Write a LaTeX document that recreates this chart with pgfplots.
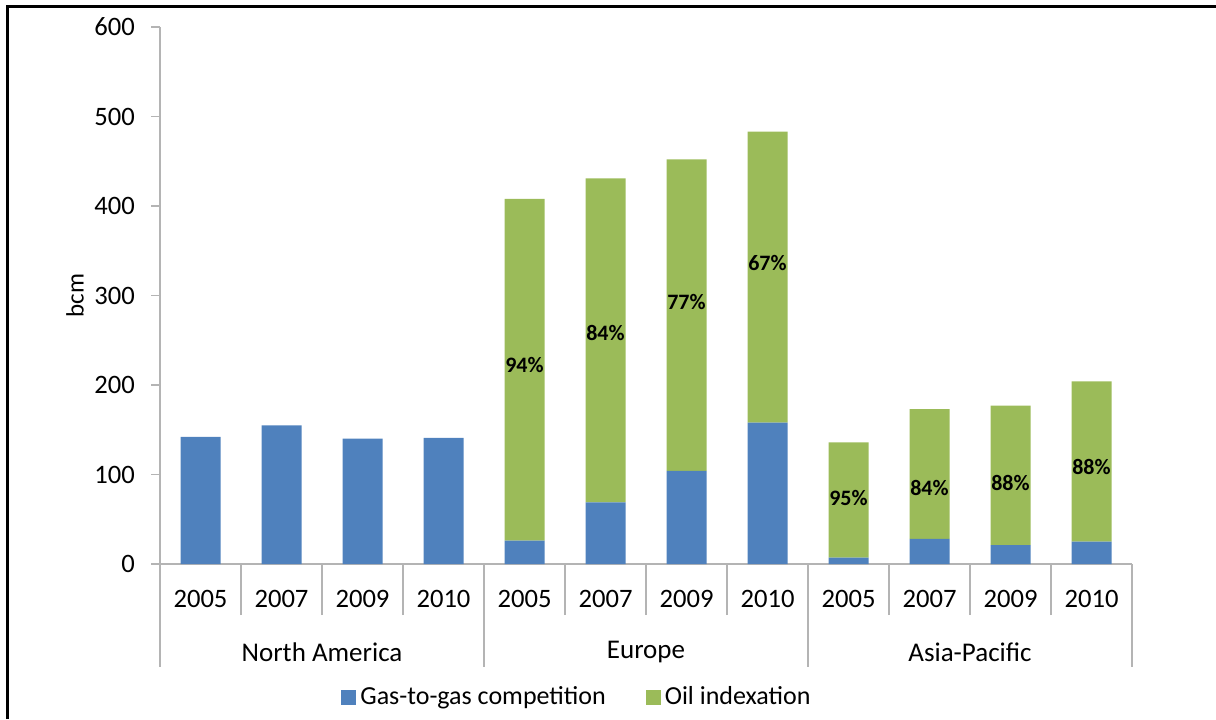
\documentclass[border=0pt]{standalone}
\usepackage{fontspec}
\setmainfont{Carlito}
\usepackage{pgfplots}
\usepackage{pgfplotstable}
\pgfplotsset{compat=1.18}
\definecolor{gasblue}{RGB}{79,129,189}
\definecolor{oilgreen}{RGB}{155,187,89}
\definecolor{axgray}{RGB}{180,180,180}

\pgfplotstableread{
x blue green
0 142 0
1 155 0
2 140 0
3 141 0
4 26 382
5 69 362
6 104 348
7 158 325
8 7 129
9 28 145
10 21 156
11 25 179
}\datatab

\pgfplotstableread{
x ly lab
4 222 94\%
5 258 84\%
6 293 77\%
7 336 67\%
8 74 95\%
9 85 84\%
10 91 88\%
11 108 88\%
}\labtab

\begin{document}
\begin{tikzpicture}
\useasboundingbox (0pt,0pt) rectangle (608pt,-359.5pt);
\draw[line width=1.4pt] (3.75pt,-359.5pt) -- (3.75pt,-3.25pt) -- (608pt,-3.25pt);
\begin{axis}[
  at={(80pt,-282pt)}, anchor=south west,
  x=40.5pt, y=0.4475pt,
  xmin=-0.5, xmax=11.5, ymin=0, ymax=600,
  ybar stacked, bar width=20pt,
  clip=false,
  axis lines*=left,
  axis line style={axgray, line width=0.8pt},
  tick align=outside,
  major tick length=4.5pt,
  ytick={0,100,...,600},
  ytick style={axgray, line width=0.8pt},
  xtick={0,...,11},
  xticklabels={2005,2007,2009,2010,2005,2007,2009,2010,2005,2007,2009,2010},
  major x tick style={draw=none},
  minor xtick={-0.5,0.5,...,11.5},
  minor tick length=25.5pt,
  minor x tick style={axgray, line width=0.8pt},
  /pgf/number format/assume math mode=true,
  tick label style={font=\fontsize{13.3}{15}\selectfont, text=black},
  yticklabel style={xshift=-4.5pt},
  xticklabel style={anchor=center, yshift=-13pt},
  ylabel={bcm},
  every axis y label/.style={at={(axis description cs:0,0.5)}, anchor=center, xshift=-42.5pt, rotate=90, font=\fontsize{12.5}{15}\selectfont},
  legend columns=2,
  legend style={at={(axis description cs:0.43,0)}, anchor=center, yshift=-66.5pt, draw=none, font=\fontsize{13}{15}\selectfont,
    /tikz/every even column/.append style={column sep=18pt}},
  legend image code/.code={\fill[#1] (0pt,-3.75pt) rectangle (7.5pt,3.75pt);},
]
\addplot[fill=gasblue, draw=none] table[x=x, y=blue]{\datatab};
\addplot[fill=oilgreen, draw=none] table[x=x, y=green]{\datatab};
\legend{Gas-to-gas competition, Oil indexation}
\foreach \s in {-0.5,3.5,7.5,11.5} {
  \edef\tmp{\noexpand\draw[axgray, line width=0.8pt] (axis cs:\s,0) -- ++(0pt,-51.5pt);}\tmp
}
\node[font=\fontsize{13.5}{15}\selectfont, anchor=center] at (axis cs:1.5,0) [yshift=-44pt] {North America};
\node[font=\fontsize{13.5}{15}\selectfont, anchor=center] at (axis cs:5.5,0) [yshift=-44pt] {Europe};
\node[font=\fontsize{13.5}{15}\selectfont, anchor=center] at (axis cs:9.5,0) [yshift=-44pt] {Asia-Pacific};
\end{axis}
\begin{axis}[
  at={(80pt,-282pt)}, anchor=south west,
  x=40.5pt, y=0.4475pt,
  xmin=-0.5, xmax=11.5, ymin=0, ymax=600,
  hide axis, clip=false,
]
\addplot[draw=none, mark=none, nodes near coords, point meta=explicit symbolic,
  every node near coord/.append style={anchor=center, font=\bfseries\fontsize{11}{13}\selectfont, text=black},
] table[x=x, y=ly, meta=lab]{\labtab};
\end{axis}
\end{tikzpicture}
\end{document}
